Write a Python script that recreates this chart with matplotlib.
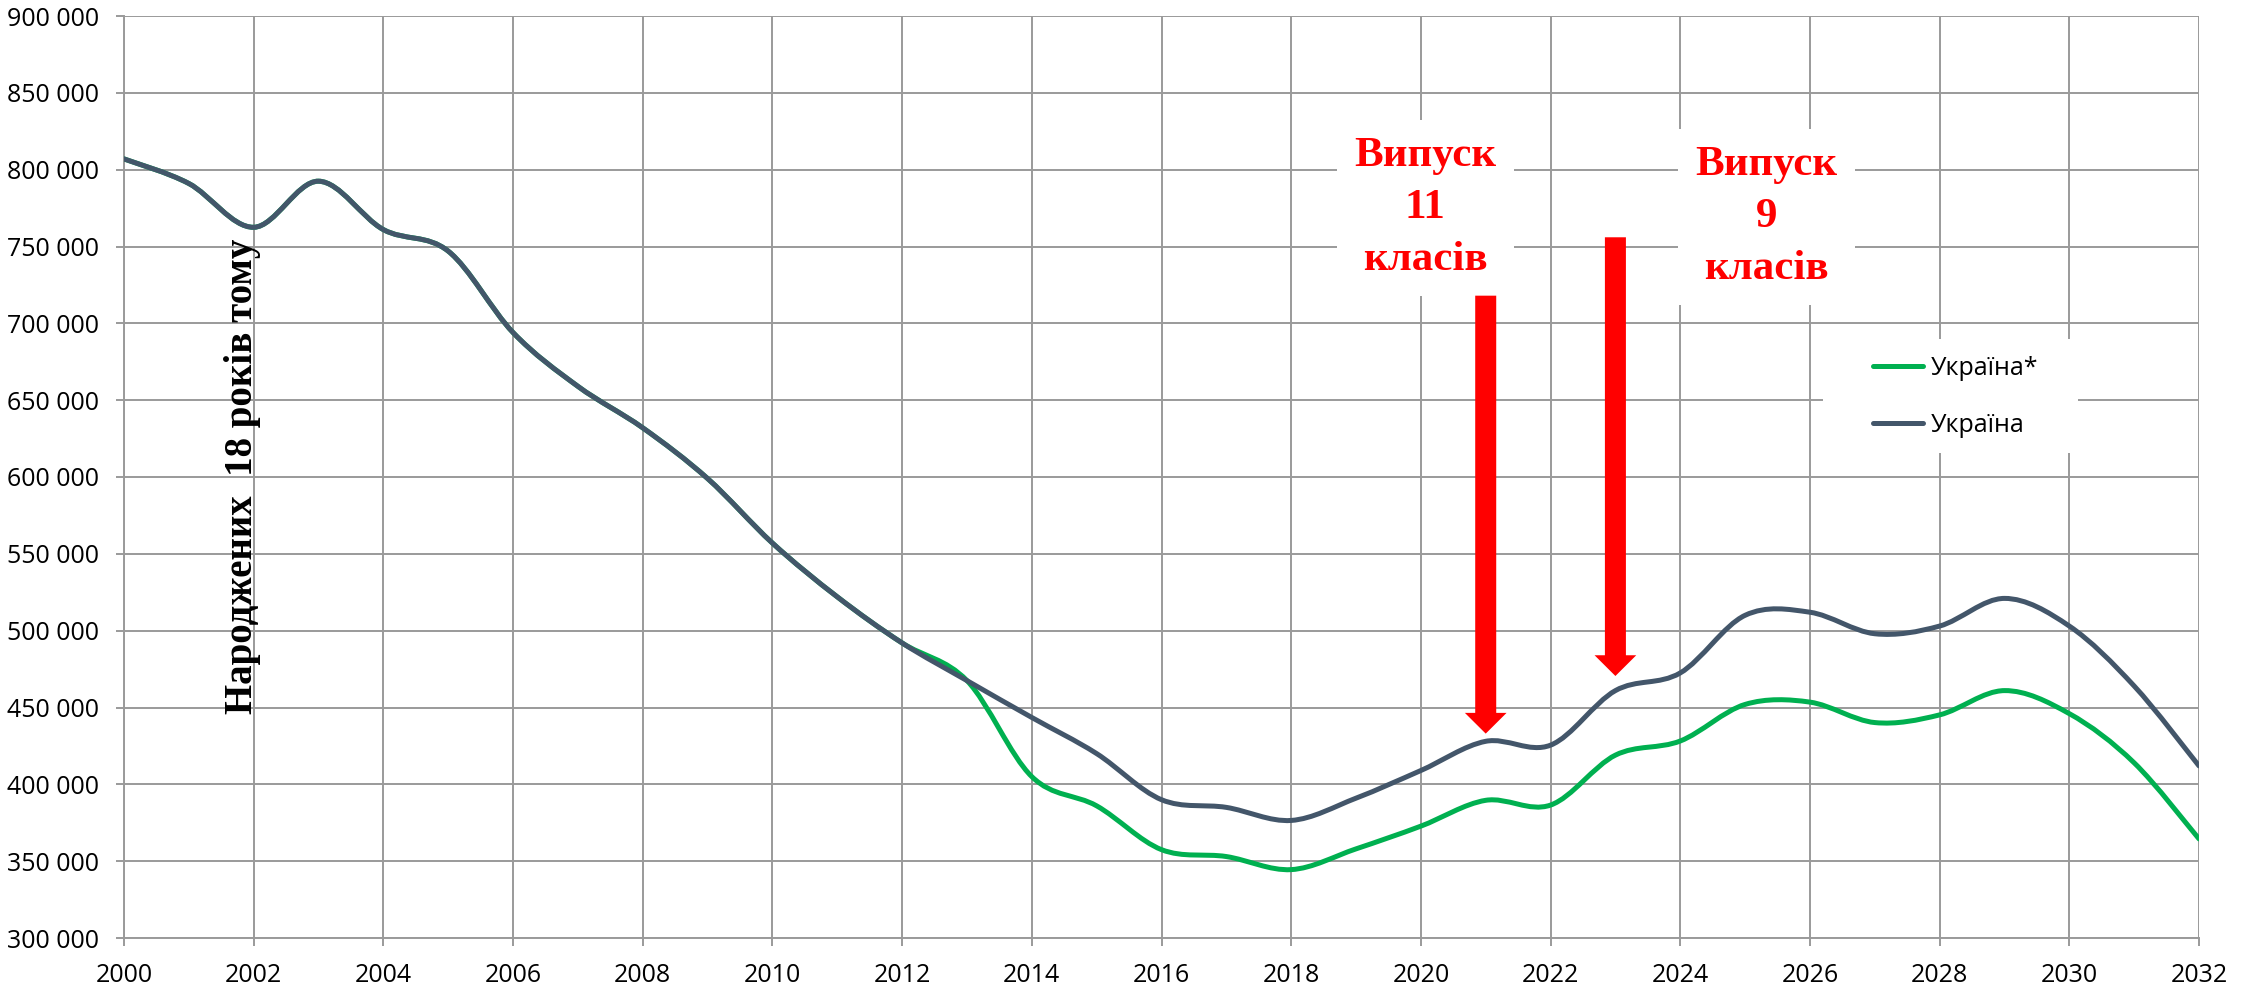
import matplotlib
matplotlib.use("Agg")
import matplotlib.pyplot as plt
from matplotlib.path import Path
from matplotlib.patches import PathPatch, Rectangle
from matplotlib.lines import Line2D
from matplotlib.ticker import FuncFormatter, MultipleLocator
import numpy as np

# ── data ────────────────────────────────────────────────────────────────────
years = list(range(2000, 2033))

ukraine = [807000, 791000, 762500, 792500, 761000, 747000, 694000, 659000,
           632000, 599000, 557000, 522000, 492000, 467500, 443500, 420000,
           390000, 385000, 376500, 391000, 409000, 428000, 425500, 461000,
           472500, 510000, 512000, 498000, 503000, 521000, 503000, 464000,
           412000]

ukraine_star = [807000, 791000, 762500, 792500, 761000, 747000, 694000, 659000,
                632000, 599000, 557000, 522000, 492000, 467500, 405000, 386000,
                357500, 353000, 344500, 358000, 372800, 389600, 386500, 419000,
                428200, 452000, 453500, 440200, 445200, 461000, 446000, 414000,
                364500]

series_labels = ["Україна*", "Україна"]

arrow_years = [2021, 2023]
arrow_from = [718000, 756000]
arrow_to = [433000, 470500]
arrow_texts = ["Випуск\n11\nкласів", "Випуск\n9\nкласів"]

side_note = "Народжених  18 років тому"

# ── styling ─────────────────────────────────────────────────────────────────
GREEN = "#00B050"
SLATE = "#43566A"
GRID = "#9a9a9a"
RED = "#FF0000"

plt.rcParams["font.family"] = ["Open Sans", "DejaVu Sans"]
SERIF = ["Liberation Serif", "DejaVu Serif"]


def smooth_path(xs, ys):
    """Excel-like smoothed line: cubic Bezier segments through the points."""
    xs = np.asarray(xs, float)
    ys = np.asarray(ys, float)
    n = len(xs)
    verts = [(xs[0], ys[0])]
    codes = [Path.MOVETO]
    for i in range(n - 1):
        i0 = max(i - 1, 0)
        i3 = min(i + 2, n - 1)
        c1 = (xs[i] + (xs[i + 1] - xs[i0]) / 6, ys[i] + (ys[i + 1] - ys[i0]) / 6)
        c2 = (xs[i + 1] - (xs[i3] - xs[i]) / 6, ys[i + 1] - (ys[i3] - ys[i]) / 6)
        verts += [c1, c2, (xs[i + 1], ys[i + 1])]
        codes += [Path.CURVE4] * 3
    return Path(verts, codes)


fig = plt.figure(figsize=(22.54, 9.85), dpi=100)
ax = fig.add_axes([124 / 2254, 1 - 938 / 985, 2075 / 2254, 922 / 985])

ax.set_xlim(2000, 2032)
ax.set_ylim(300000, 900000)
ax.xaxis.set_major_locator(MultipleLocator(2))
ax.yaxis.set_major_locator(MultipleLocator(50000))
ax.yaxis.set_major_formatter(FuncFormatter(lambda v, p: f"{int(v):,}".replace(",", " ")))

ax.grid(True, color=GRID, lw=1.4, zorder=0)
ax.set_axisbelow(True)
for side in ("top", "right"):
    ax.spines[side].set_visible(False)
for side in ("left", "bottom"):
    ax.spines[side].set_color(GRID)
    ax.spines[side].set_linewidth(1.4)
ax.tick_params(length=6, width=1.4, color=GRID, pad=12, labelsize=18)

for vals, col in ((ukraine_star, GREEN), (ukraine, SLATE)):
    ax.add_patch(PathPatch(smooth_path(years, vals), fill=False, edgecolor=col,
                           lw=3.6, capstyle="round", joinstyle="round", zorder=3))

# ── arrows and their captions ───────────────────────────────────────────────
for x, y0, y1 in zip(arrow_years, arrow_from, arrow_to):
    ax.arrow(x, y0, 0, y1 - y0, width=0.324, head_width=0.643, head_length=13500,
             length_includes_head=True, color=RED, lw=0, zorder=5)

for txt, tx, ty in zip(arrow_texts, [2020.07, 2025.33], [775000, 769200]):
    ax.text(tx, ty, txt, ha="center", va="center", color=RED, fontsize=31,
            fontweight="bold", family=SERIF, linespacing=1.48, zorder=4,
            bbox=dict(boxstyle="square,pad=0.4", fc="white", ec="none"))

ax.text(2001.97, 600600, side_note, rotation=90, rotation_mode="anchor",
        ha="center", va="baseline", fontsize=28, fontweight="bold",
        family=SERIF, color="black", zorder=4)

# legend: white panel behind a frameless legend
ax.add_patch(Rectangle((0.819, 0.526), 0.1227, 0.1237, transform=ax.transAxes,
                       fc="white", ec="none", zorder=5))
handles = [Line2D([], [], color=GREEN, lw=3.6, solid_capstyle="round"),
           Line2D([], [], color=SLATE, lw=3.6, solid_capstyle="round")]
leg = ax.legend(handles, series_labels, loc="center left",
                bbox_to_anchor=(0.8428, 0.587), borderaxespad=0, borderpad=0,
                fontsize=18, frameon=False, handlelength=2.0,
                handletextpad=0.3, labelspacing=1.28)
leg.set_zorder(6)

fig.savefig("out.png", dpi=100, facecolor="white")
